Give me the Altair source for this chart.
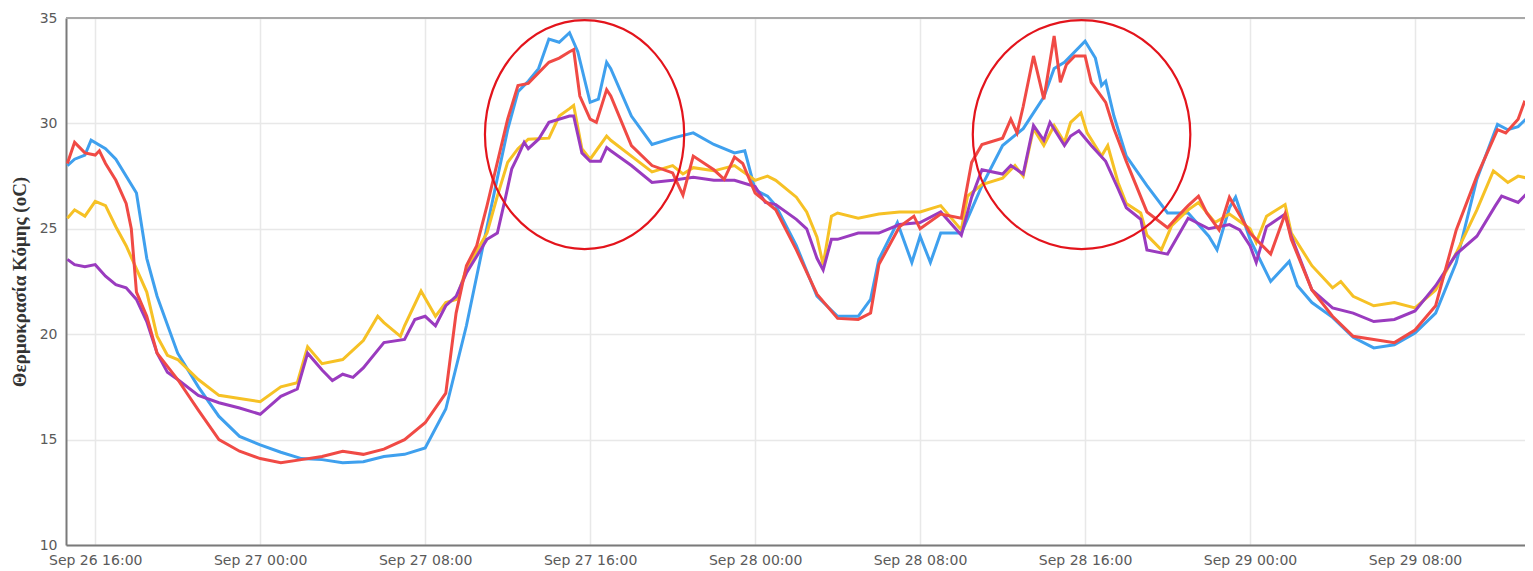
import altair as alt
import pandas as pd

BASE = pd.Timestamp("2018-09-26 16:00:00")

# hours after Sep 26 16:00 and crown temperatures (oC)
blue_h = [-1.35, -1, -0.5, -0.2, 0.5, 1, 2, 2.5, 3, 4, 5, 6, 7, 8, 9, 10, 11, 12, 13, 14, 15, 16, 17, 18, 19, 20,
          20.5, 21, 21.5, 22, 22.5, 23, 23.4, 24, 24.4, 24.8, 25, 26, 27, 28, 29, 30, 31, 31.5, 32, 32.6, 33, 34,
          35, 36, 37, 37.6, 38, 38.9, 39.6, 40, 40.5, 41, 42, 43, 44, 45, 46, 46.5, 47, 48, 48.5, 48.8, 49, 49.4,
          50, 51, 52, 53, 54, 54.4, 55, 55.3, 56, 57, 57.9, 58.3, 59, 60, 61, 62, 63, 64, 65, 66, 67, 68, 68.5,
          69, 69.7]
blue_v = [28.0, 28.3, 28.5, 29.2, 28.8, 28.3, 26.7, 23.6, 21.8, 19.1, 17.5, 16.1, 15.15, 14.75, 14.4, 14.1, 14.05,
          13.9, 13.95, 14.2, 14.3, 14.6, 16.45, 20.4, 25.1, 29.7, 31.5, 32.0, 32.6, 34.0, 33.85, 34.3, 33.4, 31.0,
          31.15, 32.9, 32.6, 30.35, 29.0, 29.3, 29.55, 29.0, 28.6, 28.7, 26.85, 26.55, 26.1, 24.2, 21.8, 20.85,
          20.85, 21.65, 23.55, 25.3, 23.4, 24.65, 23.4, 24.8, 24.8, 27.05, 28.95, 29.75, 31.25, 32.6, 32.9, 33.9,
          33.1, 31.8, 32.0, 30.35, 28.45, 27.05, 25.75, 25.75, 24.65, 24.0, 26.0, 26.5, 24.5, 22.5, 23.45, 22.3,
          21.5, 20.8, 19.85, 19.35, 19.5, 20.05, 21.0, 23.4, 27.35, 29.95, 29.7, 29.85, 30.5]

red_h = [-1.35, -1, -0.5, 0, 0.2, 0.5, 1, 1.5, 1.75, 2, 2.5, 3, 4, 5, 6, 7, 8, 9, 10, 11, 12, 13, 14, 15, 16, 17,
         17.5, 18, 18.5, 19, 20, 20.5, 21, 22, 22.5, 23, 23.2, 23.5, 24, 24.3, 24.8, 25, 26, 27, 28, 28.5, 29, 30,
         30.5, 31, 31.4, 32, 33, 34, 35, 36, 37, 37.6, 38, 39, 39.7, 40, 41, 42, 42.5, 43, 44, 44.4, 44.7, 45,
         45.5, 46, 46.5, 46.8, 47.1, 47.5, 48, 48.3, 49, 49.4, 50, 51, 52, 52.5, 53, 53.5, 53.9, 54.5, 55, 56,
         57, 57.7, 58, 59, 60, 61, 62, 63, 64, 65, 66, 67, 68, 68.4, 69, 69.3, 69.7]
red_v = [28.1, 29.1, 28.6, 28.5, 28.7, 28.1, 27.3, 26.2, 25.0, 22.0, 20.85, 19.1, 17.85, 16.4, 15.0, 14.45, 14.1,
         13.9, 14.05, 14.2, 14.45, 14.3, 14.55, 15.0, 15.8, 17.2, 21.0, 23.25, 24.2, 26.1, 30.2, 31.8, 31.9,
         32.9, 33.1, 33.4, 33.5, 31.3, 30.2, 30.05, 31.6, 31.3, 28.95, 28.0, 27.65, 26.6, 28.45, 27.8, 27.35,
         28.4, 28.1, 26.7, 25.9, 24.0, 21.9, 20.75, 20.7, 21.0, 23.3, 25.1, 25.6, 25.0, 25.7, 25.5, 28.15, 29.0,
         29.3, 30.2, 29.55, 30.8, 33.2, 31.15, 34.15, 31.95, 32.8, 33.2, 33.2, 31.95, 31.0, 29.75, 28.2, 25.8,
         25.05, 25.6, 26.1, 26.55, 25.75, 24.95, 26.5, 24.8, 23.8, 25.7, 24.5, 22.1, 20.85, 19.9, 19.75, 19.6,
         20.2, 21.35, 24.95, 27.5, 29.7, 29.55, 30.2, 31.0, 30.75]

yellow_h = [-1.35, -1, -0.5, 0, 0.5, 1, 1.5, 2, 2.5, 3, 3.5, 4, 5, 6, 7, 8, 9, 9.8, 10.3, 11, 12, 13, 13.7, 14,
            14.8, 15, 15.8, 16.5, 17, 17.5, 18, 19, 19.5, 20, 20.5, 21, 22, 22.5, 23, 23.2, 23.6, 24, 24.8, 25,
            26, 27, 28, 28.5, 29, 30, 31, 32, 32.6, 33, 34, 34.5, 35, 35.3, 35.7, 36, 37, 38, 39, 40, 41, 42,
            42.3, 43, 44, 44.6, 45, 45.5, 46, 46.5, 47, 47.3, 47.8, 48.1, 48.8, 49.1, 49.6, 50, 50.7, 51, 51.7,
            52.2, 53, 53.5, 54.3, 55, 56, 56.3, 56.8, 57.7, 58, 59, 60, 60.4, 61, 62, 63, 64, 65, 66, 67, 67.8,
            68.5, 69, 69.7]
yellow_v = [25.5, 25.9, 25.6, 26.3, 26.1, 25.1, 24.2, 23.1, 22.0, 19.9, 19.0, 18.8, 17.85, 17.1, 16.95, 16.8,
            17.5, 17.7, 19.4, 18.6, 18.8, 19.7, 20.85, 20.55, 19.9, 20.4, 22.05, 20.85, 21.5, 21.65, 23.1, 24.8,
            26.55, 28.15, 28.8, 29.25, 29.3, 30.35, 30.7, 30.85, 28.8, 28.3, 29.4, 29.2, 28.45, 27.7, 28.0, 27.6,
            27.9, 27.75, 28.0, 27.3, 27.5, 27.3, 26.5, 25.8, 24.6, 23.3, 25.6, 25.75, 25.5, 25.7, 25.8, 25.8,
            26.1, 24.95, 26.55, 27.1, 27.4, 28.0, 27.5, 29.75, 28.95, 29.9, 29.1, 30.05, 30.5, 29.55, 28.45,
            28.95, 27.2, 26.2, 25.75, 24.7, 24.0, 25.15, 25.9, 26.25, 25.3, 25.7, 25.0, 24.35, 25.6, 26.15, 24.8,
            23.25, 22.2, 22.5, 21.8, 21.35, 21.5, 21.25, 22.1, 23.85, 25.9, 27.75, 27.2, 27.5, 27.35]

purple_h = [-1.35, -1, -0.5, 0, 0.5, 1, 1.5, 2, 2.5, 3, 3.5, 4, 5, 6, 7, 8, 9, 9.8, 10.3, 11, 11.5, 12, 12.5, 13,
            14, 15, 15.5, 16, 16.5, 17, 17.5, 18, 19, 19.5, 19.9, 20.2, 20.5, 20.8, 21, 21.5, 22, 23, 23.2, 23.6,
            24, 24.5, 24.8, 25, 26, 27, 28, 29, 30, 31, 32, 32.5, 33, 34, 34.5, 35, 35.3, 35.7, 36, 37, 38, 39,
            40, 41, 42, 42.5, 43, 44, 44.4, 45, 45.5, 46, 46.3, 47, 47.3, 47.7, 48.3, 49, 49.6, 50, 50.7, 51, 52,
            53, 54, 55, 55.5, 56, 56.3, 56.8, 57.7, 58, 59, 60, 61, 62, 63, 64, 65, 66, 67, 67.9, 68.2, 69, 69.7]
purple_v = [23.55, 23.3, 23.2, 23.3, 22.75, 22.35, 22.2, 21.65, 20.6, 19.1, 18.2, 17.85, 17.1, 16.75, 16.5, 16.2,
            17.05, 17.4, 19.1, 18.3, 17.8, 18.1, 17.95, 18.4, 19.6, 19.75, 20.7, 20.85, 20.4, 21.35, 21.8, 22.9,
            24.5, 24.8, 26.5, 27.85, 28.45, 29.1, 28.8, 29.25, 30.05, 30.35, 30.35, 28.6, 28.2, 28.2, 28.85, 28.7,
            28.0, 27.2, 27.3, 27.45, 27.3, 27.3, 27.0, 26.25, 26.15, 25.45, 25.0, 23.6, 23.05, 24.5, 24.5, 24.8,
            24.8, 25.2, 25.3, 25.8, 24.7, 26.5, 27.8, 27.6, 28.0, 27.6, 29.9, 29.2, 30.05, 28.95, 29.4, 29.65,
            28.95, 28.2, 26.9, 26.0, 25.45, 24.0, 23.8, 25.5, 25.0, 25.2, 24.95, 24.2, 23.4, 25.1, 25.7, 24.65,
            22.1, 21.25, 21.0, 20.6, 20.7, 21.1, 22.3, 23.8, 24.65, 26.1, 26.55, 26.25, 26.95]

series_names = ["S1", "S2", "S3", "S4"]
series_colors = ["#3fa0ee", "#f6c125", "#9a3bbf", "#f04a45"]

# annotation ellipses (centre in data units)
ann_hours = [23.73, 47.83]
ann_temps = [29.47, 29.47]


def stamp(h):
    return (BASE + pd.Timedelta(hours=h)).strftime("%Y-%m-%dT%H:%M:%S")


rows = []
for name, hs, vs in zip(series_names, [blue_h, yellow_h, purple_h, red_h],
                        [blue_v, yellow_v, purple_v, red_v]):
    for h, v in zip(hs, vs):
        rows.append({"series": name, "time": stamp(h), "temp": v})
df = pd.DataFrame(rows)

W, H = 1459, 527

tick_values = [alt.DateTime(year=2018, month=9, date=d, hours=hh)
               for d, hh in [(26, 16), (27, 0), (27, 8), (27, 16), (28, 0), (28, 8), (28, 16), (29, 0), (29, 8)]]

x_enc = alt.X("time:T",
              scale=alt.Scale(domain=[alt.DateTime(year=2018, month=9, date=26, hours=14, minutes=35),
                                      alt.DateTime(year=2018, month=9, date=29, hours=13, minutes=20)]),
              axis=alt.Axis(values=tick_values, format="%b %d %H:%M", title=None, ticks=False,
                            grid=True, gridColor="#e8e8e8", gridWidth=1.5,
                            domainColor="#7a7a7a", domainWidth=2,
                            labelFont="DejaVu Sans", labelFontSize=14, labelColor="#5a5a5a",
                            labelPadding=8, labelOverlap=False, labelFlush=False))
y_enc = alt.Y("temp:Q",
              scale=alt.Scale(domain=[10, 35], nice=False, zero=False),
              axis=alt.Axis(values=[10, 15, 20, 25, 30, 35], title="Θερμοκρασία Κόμης (oC)", ticks=False,
                            grid=True, gridColor="#e8e8e8", gridWidth=1.5,
                            domainColor="#7a7a7a", domainWidth=2,
                            labelFont="DejaVu Sans", labelFontSize=14, labelColor="#5a5a5a",
                            labelPadding=9, titleFont="Liberation Serif", titleFontSize=19,
                            titleFontWeight="bold", titleColor="#333333", titlePadding=10))

lines = alt.Chart(df).mark_line(strokeWidth=3, clip=True).encode(
    x=x_enc, y=y_enc,
    color=alt.Color("series:N", scale=alt.Scale(domain=series_names, range=series_colors), legend=None),
)

ann = pd.DataFrame({"time": [stamp(h) for h in ann_hours], "temp": ann_temps})
ell1 = alt.Chart(ann.iloc[[0]]).mark_point(
    shape="M -0.87 0 A 0.87 1 0 1 0 0.87 0 A 0.87 1 0 1 0 -0.87 0 Z",
    size=229 * 229, filled=False, color="#e3141c", strokeWidth=2.2, opacity=1,
).encode(x="time:T", y="temp:Q")
ell2 = alt.Chart(ann.iloc[[1]]).mark_point(
    shape="M -0.95 0 A 0.95 1 0 1 0 0.95 0 A 0.95 1 0 1 0 -0.95 0 Z",
    size=229 * 229, filled=False, color="#e3141c", strokeWidth=2.2, opacity=1,
).encode(x="time:T", y="temp:Q")

top_border = alt.Chart(pd.DataFrame({"a": [0]})).mark_rule(color="#a8a8a8", strokeWidth=2).encode(
    x=alt.value(0), x2=alt.value(W), y=alt.value(0))

chart = alt.layer(lines, ell1, ell2, top_border).properties(
    width=W, height=H,
    padding={"left": 58, "top": 10, "right": 0, "bottom": 24},
    autosize=alt.AutoSizeParams(type="none"),
).configure_view(strokeWidth=0)

chart.save("out.html", embed_options={"renderer": "svg", "actions": False})
